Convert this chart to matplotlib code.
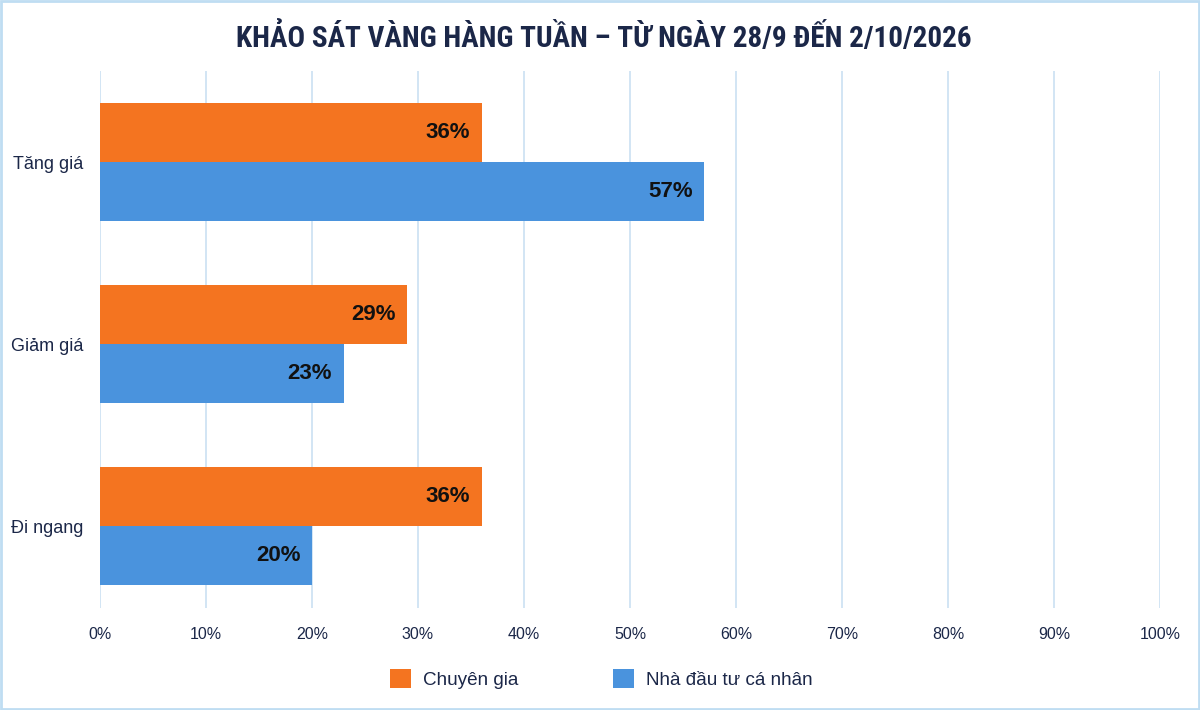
import matplotlib
matplotlib.use("Agg")
import matplotlib.pyplot as plt
from matplotlib.patches import Rectangle
import numpy as np

categories = ["Tăng giá", "Giảm giá", "Đi ngang"]
series_names = ["Chuyên gia", "Nhà đầu tư cá nhân"]
chuyen_gia = [36, 29, 36]
nha_dau_tu = [57, 23, 20]
x_ticks = [0, 10, 20, 30, 40, 50, 60, 70, 80, 90, 100]
title = "KHẢO SÁT VÀNG HÀNG TUẦN – TỪ NGÀY 28/9 ĐẾN 2/10/2026"

orange = "#F47420"
blue = "#4A93DD"
navy = "#1B2748"
grid_c = "#CFE3F3"

narrow = ["Roboto Condensed", "Liberation Sans Narrow", "Liberation Sans", "DejaVu Sans"]
plt.rcParams["font.family"] = ["Liberation Sans", "DejaVu Sans"]

W, H = 1200, 710
fig = plt.figure(figsize=(12, 7.1), dpi=100)
fig.patch.set_facecolor("white")
ax_top, ax_bot = 71, 608
ax = fig.add_axes([100 / W, 1 - ax_bot / H, 1060 / W, (ax_bot - ax_top) / H])

y = np.arange(len(categories))
h = 0.325
ax.barh(y - h / 2, chuyen_gia, height=h, color=orange, label=series_names[0], zorder=3)
ax.barh(y + h / 2, nha_dau_tu, height=h, color=blue, label=series_names[1], zorder=3)

for yi, v in zip(y, chuyen_gia):
    ax.text(v - 1.1, yi - h / 2, f"{v}%", ha="right", va="center", fontsize=16,
            fontweight="bold", color="#111111", zorder=4)
for yi, v in zip(y, nha_dau_tu):
    ax.text(v - 1.1, yi + h / 2, f"{v}%", ha="right", va="center", fontsize=16,
            fontweight="bold", color="#111111", zorder=4)

ax.set_xlim(0, 100)
ax.set_ylim(2.45, -0.5)
ax.set_xticks(x_ticks)
ax.set_xticklabels([f"{t}%" for t in x_ticks], fontsize=11.5, color=navy)
ax.set_yticks(y)
ax.set_yticklabels(categories, fontsize=13, color=navy)
ax.tick_params(axis="both", length=0)
ax.tick_params(axis="x", pad=14)
ax.tick_params(axis="y", pad=12)
ax.grid(axis="x", color=grid_c, linewidth=1.3, zorder=0)
for s in ax.spines.values():
    s.set_visible(False)

fig.text(604 / W, 1 - 38 / H, title, ha="center", va="center", fontsize=21,
         fontweight="bold", color=navy, family=narrow)

leg = fig.legend(loc="center", bbox_to_anchor=(601 / W, 1 - 679 / H), ncol=2, frameon=False,
                 fontsize=13.6, handlelength=1.15, handleheight=1.15, columnspacing=5.0,
                 handletextpad=0.6)
for t in leg.get_texts():
    t.set_color(navy)

fig.patches.append(Rectangle((0.001, 0.001), 0.998, 0.998, transform=fig.transFigure,
                             fill=False, edgecolor="#BFDDF2", linewidth=2))

fig.savefig("out.png", dpi=100, facecolor="white")
